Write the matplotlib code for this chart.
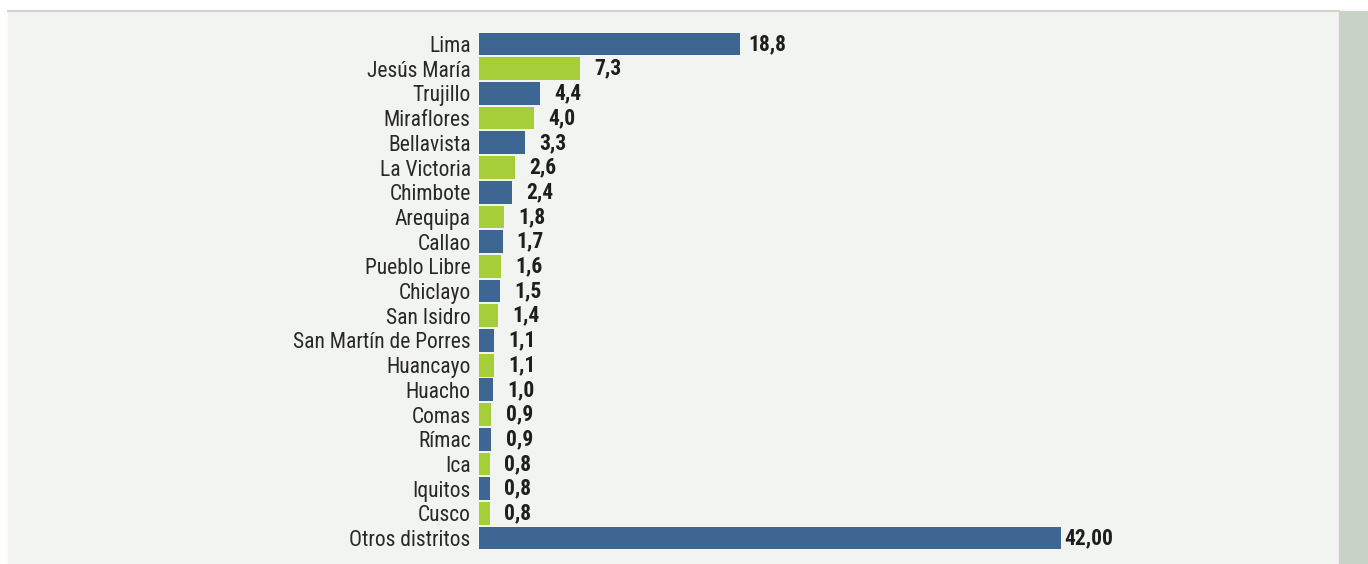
import matplotlib.pyplot as plt
from matplotlib.patches import Rectangle
from matplotlib.lines import Line2D

distritos = ['Lima', 'Jesús María', 'Trujillo', 'Miraflores', 'Bellavista', 'La Victoria',
             'Chimbote', 'Arequipa', 'Callao', 'Pueblo Libre', 'Chiclayo', 'San Isidro',
             'San Martín de Porres', 'Huancayo', 'Huacho', 'Comas', 'Rímac', 'Ica',
             'Iquitos', 'Cusco', 'Otros distritos']
valores = [18.8, 7.3, 4.4, 4.0, 3.3, 2.6, 2.4, 1.8, 1.7, 1.6, 1.5, 1.4,
           1.1, 1.1, 1.0, 0.9, 0.9, 0.8, 0.8, 0.8, 42.00]
etiquetas = ['18,8', '7,3', '4,4', '4,0', '3,3', '2,6', '2,4', '1,8', '1,7', '1,6', '1,5', '1,4',
             '1,1', '1,1', '1,0', '0,9', '0,9', '0,8', '0,8', '0,8', '42,00']

azul = '#3e6692'
verde = '#a6ce39'
colores = [azul if i % 2 == 0 else verde for i in range(len(distritos))]

# fuente estrecha, como en el original
plt.rcParams['font.family'] = ['Roboto Condensed', 'Archivo Narrow', 'DejaVu Sans']
plt.rcParams['font.stretch'] = 'condensed'

W, H = 1368, 564
fig = plt.figure(figsize=(W / 100, H / 100), dpi=100)
fig.patch.set_facecolor('white')

# panel de fondo, franja derecha y linea superior
fig.add_artist(Rectangle((8 / W, 0), (1339 - 8) / W, (H - 11) / H,
                         transform=fig.transFigure, color='#f2f4f1', zorder=0))
fig.add_artist(Rectangle((1339 / W, 0), (W - 1339) / W, (H - 11) / H,
                         transform=fig.transFigure, color='#c8d2c6', zorder=0))
fig.add_artist(Line2D([8 / W, 1339 / W], [(H - 11) / H, (H - 11) / H],
                      transform=fig.transFigure, color='#d2d4d0', lw=1.5, zorder=1))

ax = fig.add_axes([479 / W, 0, (1339 - 479) / W, (H - 11) / H])
ax.patch.set_alpha(0)
pos = list(range(len(distritos)))
ax.barh(pos, valores, height=0.92, color=colores)

px_por_unidad = (1061 - 479) / 42.0
ax.set_xlim(0, (1339 - 479) / px_por_unidad)
ax.set_ylim(21.05, -1.336)

for p, v, t in zip(pos, valores, etiquetas):
    ax.annotate(t, (v, p), xytext=(20, 0), textcoords='offset points',
                ha='center', va='center', fontsize=15.5, fontweight='bold', color='#1e1e1e')

ax.set_yticks(pos)
ax.set_yticklabels(distritos, fontsize=15.5, color='#282828')
ax.tick_params(axis='y', length=0, pad=6)
ax.set_xticks([])
for s in ax.spines.values():
    s.set_visible(False)

fig.savefig('out.png', dpi=100, facecolor=fig.get_facecolor())
